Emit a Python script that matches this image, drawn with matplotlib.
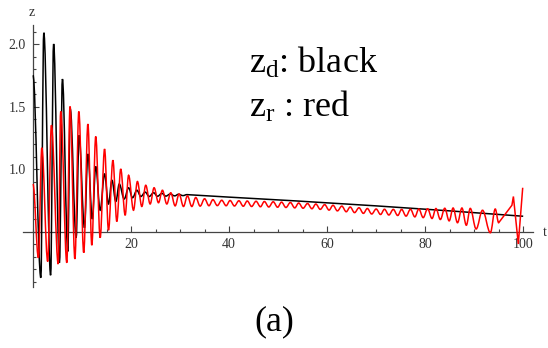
import matplotlib
matplotlib.use("Agg")
import matplotlib.pyplot as plt
from matplotlib.path import Path
from matplotlib.patches import PathPatch
from matplotlib.ticker import MultipleLocator, FixedLocator

plt.rcParams['font.family'] = ['Liberation Serif', 'DejaVu Serif']
plt.rcParams['mathtext.fontset'] = 'custom'
plt.rcParams['mathtext.rm'] = 'Liberation Serif'
plt.rcParams['mathtext.it'] = 'Liberation Serif:italic'

# ---- data: extrema of z_d (black) ----
zd_ext_t = [0.0, 1.6, 2.2, 3.6, 4.2, 5.4, 6.0, 7.1, 7.6, 8.8, 9.4, 10.5, 11.2, 12.1,
            12.8, 13.7, 14.6, 15.4, 16.1, 16.9, 17.6, 18.6, 19.5, 20.3, 21.2, 22.0,
            22.9, 23.7, 24.6, 25.4, 26.3, 27.1, 28.0, 28.9, 29.7, 30.6, 31.4]
zd_ext_z = [1.75, 0.13, 2.09, 0.15, 2.00, 0.25, 1.72, 0.34, 1.48, 0.45, 1.27, 0.53, 1.12, 0.60,
            1.02, 0.67, 0.96, 0.72, 0.91, 0.74, 0.88, 0.76, 0.85, 0.77, 0.83, 0.78,
            0.815, 0.78, 0.81, 0.782, 0.805, 0.783, 0.80, 0.785, 0.798, 0.787, 0.795]
zd_tail_t = [40.0, 53.5, 70.0, 85.0, 100.0]
zd_tail_z = [0.775, 0.745, 0.705, 0.665, 0.622]

# ---- data: extrema of z_r (red) ----
zr_ext_t = [0.0, 1.1, 1.8, 3.0, 3.75, 5.15, 5.65, 6.9, 7.55, 8.55, 9.35, 10.35, 11.2, 12.0,
            12.8, 13.7, 14.6, 15.4, 16.3, 17.1, 17.9, 18.8, 19.5, 20.5, 21.3, 22.2,
            23.0, 23.9, 24.7, 25.6, 26.4, 27.3, 28.1, 29.0, 29.8, 30.7,
            31.5, 32.4, 33.2, 34.1, 35.0, 35.9, 36.7, 37.6, 38.5, 39.4, 40.2, 41.1,
            42.0, 42.9, 43.7, 44.6, 45.5, 46.4, 47.2, 48.1, 49.0, 49.9, 50.7, 51.6,
            52.5, 53.4, 54.2, 55.1, 56.0, 56.9, 57.7, 58.6, 59.5, 60.4, 61.2, 62.1,
            63.0, 63.9, 64.7, 65.6, 66.5, 67.4, 68.2, 69.1, 70.0, 70.9, 71.7, 72.6,
            73.5, 74.4, 75.2, 76.1, 77.0, 77.9, 78.7, 79.6, 80.5, 81.4, 82.2, 83.1,
            84.0, 84.9, 85.7, 86.6, 87.5, 88.4, 89.2, 90.4, 91.7, 93.3, 94.3, 95.0]
zr_ext_z = [0.88, 0.29, 1.17, 0.26, 1.35, 0.24, 1.46, 0.25, 1.50, 0.28, 1.46, 0.33, 1.36, 0.39,
            1.26, 0.45, 1.16, 0.51, 1.07, 0.58, 1.00, 0.63, 0.95, 0.67, 0.90, 0.70,
            0.87, 0.72, 0.85, 0.73, 0.83, 0.72, 0.81, 0.705, 0.80, 0.70,
            0.785, 0.700, 0.772, 0.703, 0.762, 0.706, 0.755, 0.707, 0.750, 0.706, 0.748, 0.704,
            0.746, 0.702, 0.744, 0.700, 0.742, 0.698, 0.740, 0.696, 0.738, 0.694, 0.735, 0.692,
            0.732, 0.689, 0.728, 0.686, 0.724, 0.682, 0.720, 0.677, 0.715, 0.671, 0.710, 0.665,
            0.703, 0.658, 0.696, 0.651, 0.690, 0.645, 0.684, 0.640, 0.680, 0.636, 0.678, 0.632,
            0.677, 0.628, 0.677, 0.623, 0.678, 0.617, 0.680, 0.611, 0.682, 0.604, 0.684, 0.596,
            0.686, 0.585, 0.688, 0.570, 0.688, 0.550, 0.685, 0.520, 0.670, 0.490, 0.680, 0.570]
zr_tail_t = [97.7, 98.0, 99.0, 99.9]
zr_tail_z = [0.71, 0.78, 0.40, 0.85]

x_major = [20, 40, 60, 80, 100]
y_major = [1.0, 1.5, 2.0]


def wave_path(ext_t, ext_z, tail_t, tail_z):
    verts = [(ext_t[0], ext_z[0])]
    codes = [Path.MOVETO]
    for i in range(1, len(ext_t)):
        t0, z0 = ext_t[i - 1], ext_z[i - 1]
        t1, z1 = ext_t[i], ext_z[i]
        d = t1 - t0
        verts += [(t0 + 0.36 * d, z0), (t1 - 0.36 * d, z1), (t1, z1)]
        codes += [Path.CURVE4] * 3
    for t, z in zip(tail_t, tail_z):
        verts.append((t, z))
        codes.append(Path.LINETO)
    return Path(verts, codes)


W, H = 548, 348
fig = plt.figure(figsize=(W / 100, H / 100), dpi=100)
ax = fig.add_axes([23 / W, 1 - 287 / H, (533 - 23) / W, (287 - 25) / H])
ax.set_xlim(-2.04, 102.0)
ax.set_ylim(0.056, 2.152)

ax.add_patch(PathPatch(wave_path(zd_ext_t, zd_ext_z, zd_tail_t, zd_tail_z),
                       fill=False, edgecolor='black', lw=1.1, zorder=3))
ax.add_patch(PathPatch(wave_path(zr_ext_t, zr_ext_z, zr_tail_t, zr_tail_z),
                       fill=False, edgecolor='#ff0000', lw=1.1, zorder=4))

for s in ['top', 'right']:
    ax.spines[s].set_visible(False)
ax.spines['left'].set_position(('data', 0))
ax.spines['bottom'].set_position(('data', 0.5))
for s in ['left', 'bottom']:
    ax.spines[s].set_color('#444444')
    ax.spines[s].set_linewidth(0.9)

ax.xaxis.set_major_locator(FixedLocator(x_major))
ax.xaxis.set_minor_locator(MultipleLocator(5))
ax.yaxis.set_major_locator(FixedLocator(y_major))
ax.yaxis.set_minor_locator(MultipleLocator(0.1))
ax.set_xticklabels([str(v) for v in x_major])
ax.set_yticklabels([f"{v:.1f}" for v in y_major])
ax.tick_params(which='both', direction='in', color='#444444', width=0.8,
               labelsize=10, labelcolor='#333333')
ax.tick_params(which='major', length=4.0)
ax.tick_params(which='minor', length=2.5)
ax.tick_params(axis='x', pad=5)
ax.tick_params(axis='y', pad=5)
ax.patch.set_alpha(0)

fig.text(32 / W, 1 - 12 / H, 'z', ha='center', va='center', fontsize=10, color='#333333')
fig.text(547 / W, 1 - 232 / H, 't', ha='right', va='center', fontsize=10, color='#333333')

fig.text(249 / W, 1 - 73 / H, r'$\mathrm{z_d}$: black', ha='left', va='baseline', fontsize=26)
fig.text(249 / W, 1 - 117 / H, r'$\mathrm{z_r}$ : red', ha='left', va='baseline', fontsize=26)
fig.text(274 / W, 1 - 322 / H, '(a)', ha='center', va='center', fontsize=26)

fig.savefig('out.png', dpi=100)
